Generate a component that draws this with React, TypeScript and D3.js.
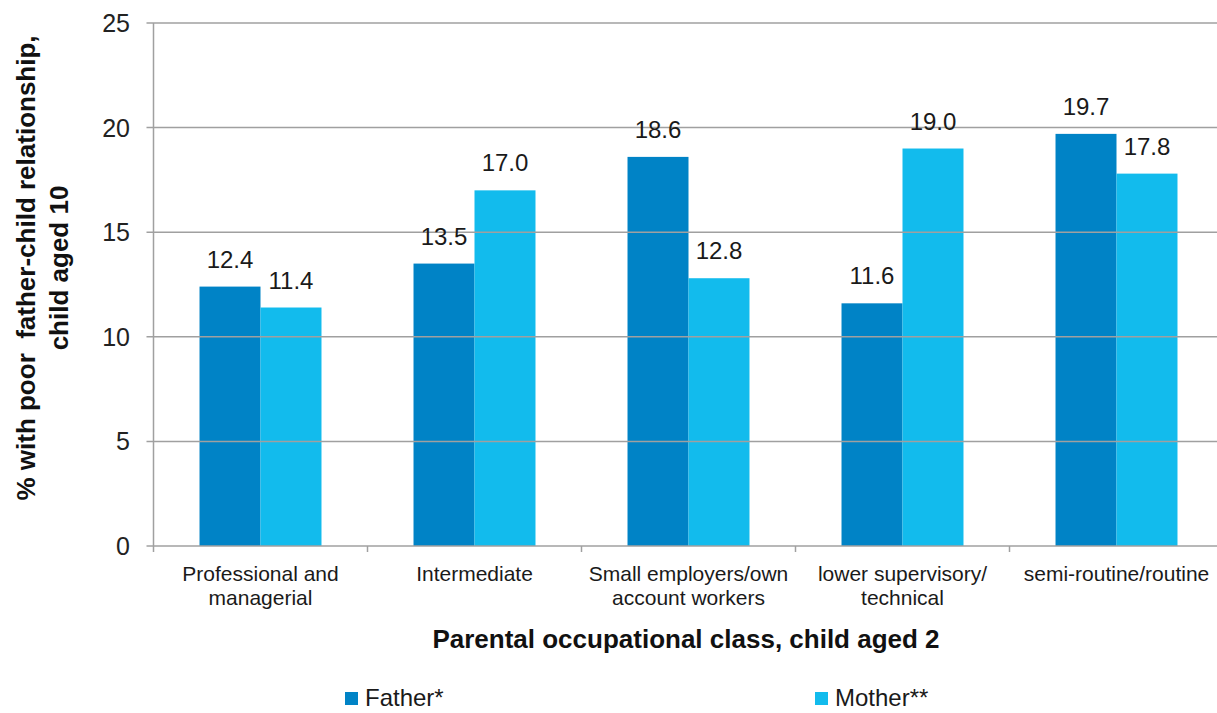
import React from 'react';
import * as d3 from 'd3';

const categories = [
  ['Professional and', 'managerial'],
  ['Intermediate'],
  ['Small employers/own', 'account workers'],
  ['lower supervisory/', 'technical'],
  ['semi-routine/routine'],
];
const categoryKeys = ['prof', 'inter', 'small', 'lower', 'semi'];
const seriesNames = ['Father*', 'Mother**'];
const fatherValues = [12.4, 13.5, 18.6, 11.6, 19.7];
const motherValues = [11.4, 17.0, 12.8, 19.0, 17.8];
const yTicks = [0, 5, 10, 15, 20, 25];

const colors = ['#0083c6', '#12bbed'];
const FONT = '"Liberation Sans", Arial, sans-serif';

const width = 1217;
const height = 713;
const margin = { left: 153.5, right: 1223.5, top: 23, bottom: 546 };

export default function App() {
  const x0 = d3
    .scaleBand<string>()
    .domain(categoryKeys)
    .range([margin.left, margin.right])
    .paddingInner(0.43)
    .paddingOuter(0.215);
  const x1 = d3.scaleBand<number>().domain([0, 1]).range([0, x0.bandwidth()]);
  const y = d3.scaleLinear().domain([0, 25]).range([margin.bottom, margin.top]);

  const step = x0.step();
  const gap = (step * 0.43) / 2;
  const series = [fatherValues, motherValues];
  const grid = '#a0a0a0';

  return (
    <svg width={width} height={height} style={{ position: 'absolute', left: 0, top: 0 }}>
      <rect width={width} height={height} fill="#fff" />

      {/* bars */}
      {categoryKeys.map((k, i) => (
        <g key={k} transform={`translate(${x0(k)},0)`}>
          {series.map((vals, s) => (
            <rect
              key={s}
              x={x1(s)}
              y={y(vals[i])}
              width={x1.bandwidth()}
              height={y(0) - y(vals[i])}
              fill={colors[s]}
            />
          ))}
        </g>
      ))}

      {/* gridlines & y axis */}
      {yTicks.map((t) => (
        <g key={t}>
          {t > 0 && (
            <line x1={margin.left - 7} x2={width} y1={y(t)} y2={y(t)} stroke={grid} strokeWidth={1.5} />
          )}
          {t === 0 && (
            <line x1={margin.left - 7} x2={margin.left} y1={y(t)} y2={y(t)} stroke={grid} strokeWidth={1.5} />
          )}
          <text
            x={130}
            y={y(t)}
            dy="0.36em"
            textAnchor="end"
            fontFamily={FONT}
            fontSize={25}
            fill="#222"
          >
            {t}
          </text>
        </g>
      ))}
      <line x1={margin.left} x2={margin.left} y1={margin.top} y2={margin.bottom + 6} stroke={grid} strokeWidth={1.5} />
      <line x1={margin.left} x2={width} y1={margin.bottom} y2={margin.bottom} stroke={grid} strokeWidth={1.5} />
      {categoryKeys.map((k) => (
        <line
          key={k}
          x1={(x0(k) as number) + x0.bandwidth() + gap}
          x2={(x0(k) as number) + x0.bandwidth() + gap}
          y1={margin.bottom}
          y2={margin.bottom + 6}
          stroke={grid}
          strokeWidth={1.5}
        />
      ))}

      {/* value labels */}
      {categoryKeys.map((k, i) =>
        series.map((vals, s) => (
          <text
            key={`${k}-${s}`}
            x={(x0(k) as number) + (x1(s) as number) + x1.bandwidth() / 2}
            y={y(vals[i]) - 19}
            textAnchor="middle"
            fontFamily={FONT}
            fontSize={24}
            fill="#1a1a1a"
          >
            {vals[i].toFixed(1)}
          </text>
        ))
      )}

      {/* category labels */}
      {categoryKeys.map((k, i) => (
        <text
          key={k}
          x={(x0(k) as number) + x0.bandwidth() / 2}
          y={581}
          textAnchor="middle"
          fontFamily={FONT}
          fontSize={21}
          fill="#1a1a1a"
        >
          {categories[i].map((line, j) => (
            <tspan key={j} x={(x0(k) as number) + x0.bandwidth() / 2} dy={j === 0 ? 0 : 24}>
              {line}
            </tspan>
          ))}
        </text>
      ))}

      {/* axis titles */}
      <text
        x={686}
        y={648}
        textAnchor="middle"
        fontFamily={FONT}
        fontSize={26}
        fontWeight="bold"
        fill="#111"
      >
        Parental occupational class, child aged 2
      </text>
      <text
        transform="translate(0,268) rotate(-90)"
        textAnchor="middle"
        fontFamily={FONT}
        fontSize={26}
        fontWeight="bold"
        fill="#111"
        style={{ whiteSpace: 'pre' }}
      >
        <tspan x={0} y={35}>% with poor  father-child relationship,</tspan>
        <tspan x={0} y={68}>child aged 10</tspan>
      </text>

      {/* legend */}
      {seriesNames.map((name, s) => {
        const lx = s === 0 ? 345 : 815;
        return (
          <g key={name}>
            <rect x={lx} y={692} width={13} height={13} fill={colors[s]} />
            <text x={lx + 20} y={706} fontFamily={FONT} fontSize={24} fill="#1a1a1a">
              {name}
            </text>
          </g>
        );
      })}
    </svg>
  );
}
